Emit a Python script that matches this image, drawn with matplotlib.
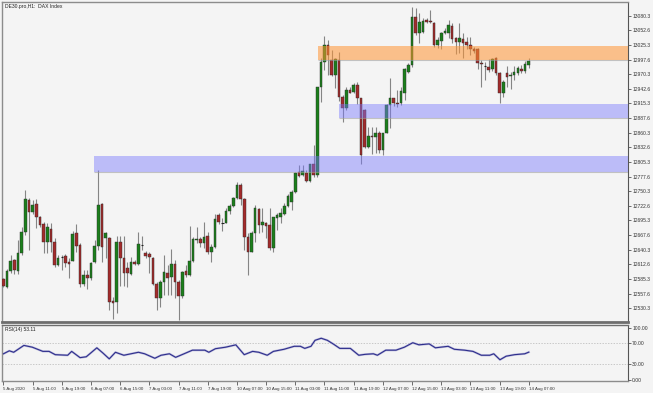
import matplotlib
matplotlib.use("Agg")
import matplotlib.pyplot as plt
from matplotlib.patches import Rectangle

# hourly DAX candles
opens = [12585.3, 12570.8, 12600.9, 12621.0, 12600.9, 12634.8, 12673.0, 12733.8, 12710.6, 12725.6,
         12702.5, 12688.0, 12654.2, 12679.3, 12654.2, 12611.6, 12626.6, 12628.5, 12616.6, 12619.7,
         12671.1, 12649.2, 12575.2, 12592.8, 12586.5, 12616.6, 12647.3, 12725.6, 12663.0, 12663.0,
         12544.5, 12541.4, 12655.4, 12625.4, 12606.6, 12594.0, 12616.6, 12612.8, 12649.2, 12633.5,
         12632.3, 12625.4, 12575.2, 12548.9, 12579.0, 12595.9, 12589.7, 12612.8, 12579.0, 12553.9,
         12600.3, 12592.8, 12619.1, 12658.6, 12660.5, 12652.3, 12666.1, 12636.7, 12646.1, 12705.6,
         12690.5, 12691.2, 12713.1, 12723.1, 12736.9, 12762.0, 12735.7, 12664.9, 12636.7, 12671.1,
         12716.9, 12686.8, 12689.9, 12686.8, 12642.9, 12699.3, 12701.2, 12707.5, 12723.1, 12729.4,
         12749.4, 12787.0, 12780.8, 12785.2, 12770.1, 12801.5, 12780.8, 12946.9, 12993.8, 13025.2,
         12997.0, 12968.8, 12997.0, 12926.8, 12906.1, 12940.6, 12937.5, 12950.0, 12924.9, 12903.0,
         12834.1, 12854.1, 12852.9, 12859.1, 12827.8, 12860.4, 12912.4, 12924.9, 12916.8, 12915.5,
         12935.6, 12975.1, 12987.6, 13077.2, 13047.1, 13049.0, 13072.2, 13070.9, 13065.9, 13025.2,
         13033.3, 13047.1, 13047.1, 13060.9, 13037.7, 13031.5, 13035.8, 13031.5, 13025.2, 13017.0,
         13017.0, 12992.0, 12985.7, 12984.5, 12979.5, 13000.1, 12971.9, 12934.3, 12971.9, 12966.9,
         12968.8, 12973.2, 12979.5, 12976.9, 12987.6]
highs = [12586.5, 12603.4, 12630.4, 12622.2, 12658.6, 12683.7, 12752.6, 12738.2, 12733.8, 12735.7,
         12704.3, 12693.1, 12689.9, 12689.9, 12663.0, 12630.4, 12630.4, 12632.3, 12624.1, 12675.5,
         12688.0, 12652.3, 12602.2, 12602.2, 12616.6, 12658.6, 12790.2, 12727.5, 12674.3, 12664.9,
         12552.1, 12666.7, 12666.1, 12666.1, 12616.6, 12627.3, 12621.0, 12674.3, 12666.7, 12637.9,
         12636.7, 12627.3, 12580.2, 12583.4, 12630.4, 12611.6, 12641.7, 12621.0, 12583.4, 12600.3,
         12611.6, 12685.5, 12664.9, 12683.7, 12664.9, 12693.1, 12674.3, 12651.1, 12706.8, 12708.7,
         12700.6, 12718.1, 12726.3, 12740.1, 12768.3, 12765.1, 12736.9, 12671.1, 12675.5, 12724.4,
         12719.4, 12718.1, 12693.1, 12718.1, 12702.5, 12708.7, 12718.1, 12727.5, 12745.1, 12752.6,
         12787.0, 12799.6, 12799.6, 12790.2, 12801.5, 12837.2, 12946.9, 13000.1, 13042.1, 13034.6,
         13015.8, 13000.1, 13012.7, 12931.2, 12946.9, 12946.9, 12954.4, 12956.3, 12924.9, 12904.2,
         12871.7, 12870.4, 12871.7, 12864.1, 12860.4, 12914.3, 12962.5, 12924.9, 12940.6, 12946.9,
         12981.3, 12990.7, 13097.3, 13094.1, 13084.7, 13075.3, 13075.3, 13091.0, 13069.1, 13040.9,
         13050.3, 13056.5, 13072.2, 13067.2, 13039.6, 13067.2, 13047.1, 13040.9, 13040.9, 13022.1,
         13018.9, 12997.0, 12993.9, 12998.2, 13000.1, 13003.3, 12975.1, 12959.4, 12985.7, 12975.1,
         12985.7, 12985.7, 12987.6, 12995.7, 13000.1]
lows = [12570.8, 12569.0, 12595.9, 12594.7, 12594.7, 12630.4, 12668.0, 12639.8, 12706.8, 12681.8,
        12683.7, 12634.8, 12634.8, 12636.7, 12608.5, 12610.3, 12602.2, 12608.5, 12587.8, 12619.1,
        12636.7, 12570.8, 12572.1, 12565.8, 12583.4, 12614.7, 12639.8, 12617.9, 12624.1, 12527.0,
        12510.1, 12520.7, 12572.7, 12572.1, 12570.8, 12592.8, 12611.6, 12611.6, 12639.8, 12625.4,
        12595.9, 12574.0, 12527.0, 12533.3, 12555.2, 12555.2, 12555.2, 12548.9, 12508.2, 12550.2,
        12589.7, 12591.5, 12617.9, 12652.3, 12646.1, 12642.9, 12631.6, 12616.6, 12642.9, 12688.0,
        12675.5, 12689.9, 12706.8, 12721.3, 12735.7, 12724.4, 12639.8, 12592.8, 12635.4, 12655.5,
        12671.1, 12674.3, 12661.7, 12639.8, 12636.7, 12677.4, 12689.9, 12705.6, 12721.3, 12715.0,
        12746.3, 12777.6, 12778.9, 12768.3, 12768.3, 12777.6, 12777.6, 12918.7, 12978.2, 12968.8,
        12966.9, 12943.7, 12920.5, 12881.1, 12903.0, 12934.3, 12934.3, 12914.3, 12801.5, 12830.9,
        12830.9, 12820.3, 12821.5, 12821.5, 12818.4, 12859.1, 12868.5, 12910.5, 12909.3, 12912.4,
        12921.8, 12973.2, 12984.5, 13044.0, 13028.3, 13047.1, 13065.9, 13065.9, 13022.1, 13018.9,
        13017.0, 13045.9, 13037.7, 13028.3, 13008.3, 13009.5, 13000.1, 13017.0, 13006.4, 13009.5,
        12979.5, 12946.9, 12959.4, 12975.1, 12976.9, 12968.8, 12915.5, 12928.1, 12946.9, 12941.8,
        12959.4, 12968.8, 12973.2, 12971.9, 12981.3]
closes = [12572.7, 12600.9, 12619.7, 12602.2, 12634.8, 12673.0, 12735.7, 12710.6, 12724.4, 12702.5,
          12686.8, 12654.2, 12683.7, 12654.2, 12611.6, 12625.4, 12627.9, 12614.7, 12612.8, 12669.9,
          12647.9, 12575.2, 12592.8, 12586.5, 12614.7, 12647.3, 12724.4, 12646.1, 12671.1, 12542.7,
          12540.8, 12655.4, 12624.1, 12597.2, 12595.9, 12616.6, 12612.8, 12651.1, 12650.4, 12629.1,
          12626.0, 12575.2, 12548.9, 12579.0, 12597.8, 12587.8, 12612.8, 12579.0, 12553.9, 12599.1,
          12592.8, 12619.1, 12660.5, 12660.5, 12652.3, 12664.9, 12636.7, 12646.1, 12698.1, 12691.8,
          12689.3, 12713.1, 12723.1, 12736.9, 12762.0, 12735.0, 12664.9, 12636.7, 12671.1, 12718.1,
          12686.8, 12691.8, 12685.5, 12642.9, 12701.2, 12705.6, 12708.7, 12723.1, 12741.3, 12749.4,
          12785.2, 12778.9, 12788.3, 12770.1, 12801.5, 12780.8, 12946.9, 12993.9, 13025.2, 13006.4,
          12968.8, 12998.3, 12926.8, 12906.1, 12940.6, 12935.6, 12950.0, 12924.9, 12818.4, 12834.1,
          12854.1, 12851.6, 12860.4, 12827.8, 12859.1, 12912.4, 12924.9, 12915.5, 12914.9, 12939.3,
          12979.5, 12987.6, 13077.2, 13047.1, 13069.1, 13070.9, 13067.8, 13069.1, 13025.2, 13034.6,
          13048.4, 13052.1, 13062.8, 13035.8, 13031.5, 13037.7, 13029.6, 13025.2, 13017.0, 13014.5,
          12992.0, 12989.5, 12984.5, 12978.2, 12998.2, 12971.9, 12935.6, 12956.3, 12965.7, 12968.8,
          12975.1, 12981.3, 12976.9, 12989.5, 12995.1]

# time axis: one label every 8 bars
time_labels = ["5 Aug 2020", "5 Aug 11:00", "5 Aug 19:00", "6 Aug 07:00", "6 Aug 15:00",
               "7 Aug 03:00", "7 Aug 11:00", "7 Aug 19:00", "10 Aug 07:00", "10 Aug 15:00",
               "11 Aug 03:00", "11 Aug 11:00", "11 Aug 19:00", "12 Aug 07:00", "12 Aug 15:00",
               "13 Aug 03:00", "13 Aug 11:00", "13 Aug 19:00", "14 Aug 07:00"]
label_step = 8

price_ticks = [13080.3, 13052.6, 13025.3, 12997.6, 12970.3, 12942.6, 12915.3, 12887.6, 12860.3,
               12832.6, 12805.3, 12777.6, 12750.3, 12722.6, 12695.3, 12667.6, 12640.3, 12612.6,
               12585.3, 12557.6, 12530.3]

# supply / demand zones: (start bar, low price, high price)
zone_start = [86.1, 92.0, 24.8]
zone_low = [12997.0, 12887.4, 12785.9]
zone_high = [13023.3, 12913.7, 12816.5]
zone_colors = [(1.0, 0.58, 0.2, 0.55), (0.47, 0.47, 1.0, 0.45), (0.47, 0.47, 1.0, 0.45)]

# RSI(14) line
rsi_bar = [0, 1.6, 2.8, 5.6, 7.9, 10.8, 12.5, 14.2, 17.6, 18.7, 21.0, 22.7, 25.6, 27.3, 29.0,
           30.7, 33.0, 37.0, 38.7, 41.5, 43.2, 45.5, 47.2, 49.5, 51.8, 55.2, 56.3, 58.1, 60.9,
           63.7, 66.0, 68.3, 70.0, 72.3, 74.0, 76.9, 79.7, 81.4, 82.6, 84.3, 85.4, 87.1, 88.8,
           90.5, 92.2, 95.1, 97.4, 99.1, 101.4, 102.5, 104.8, 107.6, 109.9, 112.2, 113.9, 116.7,
           118.4, 121.9, 123.6, 126.4, 128.7, 131.0, 133.3, 134.4, 136.1, 137.8, 140.1, 142.9, 144.0]
rsi_val = [50.0, 55.7, 52.9, 66.0, 62.6, 54.6, 54.6, 48.3, 47.2, 54.6, 42.6, 44.3, 61.4, 51.2,
           40.3, 52.9, 47.2, 52.9, 50.0, 41.4, 47.2, 50.0, 43.2, 50.0, 56.9, 56.9, 52.9, 59.7,
           62.6, 67.1, 48.3, 54.6, 52.9, 47.2, 54.6, 58.6, 64.3, 64.3, 60.3, 64.3, 75.7, 79.7,
           75.7, 68.3, 60.3, 60.3, 47.2, 48.9, 50.0, 47.2, 56.9, 56.9, 62.6, 71.1, 67.1, 68.9,
           61.4, 64.3, 58.6, 56.9, 54.6, 47.2, 47.2, 50.0, 38.6, 45.4, 48.3, 50.0, 53.11]
rsi_levels = [70, 30]
rsi_ticks = [100, 70, 30, 0]

BG = "#f4f4f4"
FRAME = "#8c8c8c"
BULL = "#1b7f1b"
BEAR = "#a32b2b"
WICK = "#858585"

plt.rcParams["font.family"] = ["Liberation Sans", "DejaVu Sans"]

fig = plt.figure(figsize=(6.53, 3.93), dpi=100, facecolor=BG)
ax = fig.add_axes([2 / 653, 71 / 393, 626 / 653, 320 / 393], facecolor=BG)
ax_rsi = fig.add_axes([2 / 653, 12 / 393, 626 / 653, 56 / 393], facecolor=BG)

n = len(opens)
xs = list(range(n))

# candles
for i in xs:
    o, h, l, c = opens[i], highs[i], lows[i], closes[i]
    col = BULL if c >= o else BEAR
    ax.vlines(i, l, h, color=WICK, lw=0.8, zorder=2)
    lo_b, hi_b = min(o, c), max(o, c)
    if hi_b - lo_b < 1.5:
        ax.hlines(o, i - 0.36, i + 0.36, color="#222222", lw=0.8, zorder=3)
    else:
        ax.bar(i, hi_b - lo_b, bottom=lo_b, width=0.72, color=col,
               edgecolor="#2a2a2a", linewidth=0.3, zorder=3)

# zones drawn on top, translucent
xmax = 171.2
for s, lo, hi, zc in zip(zone_start, zone_low, zone_high, zone_colors):
    ax.add_patch(Rectangle((s, lo), xmax - s, hi - lo, facecolor=zc, edgecolor="none", zorder=4))
    ax.hlines(lo, s, xmax, color="#a0a0a0", lw=0.8, alpha=0.6, zorder=4)

ax.set_xlim(-0.4, xmax)
ax.set_ylim(12504.4, 13106.0)
ax.set_yticks(price_ticks)
ax.set_yticklabels([f"{t:.1f}" for t in price_ticks])
ax.yaxis.tick_right()
ax.tick_params(axis="y", which="both", length=2, width=0.5, pad=1, labelsize=3.6,
               colors="#333333")
ax.set_xticks([])
for side in ["left", "top"]:
    ax.spines[side].set_color(FRAME)
    ax.spines[side].set_linewidth(1)
ax.spines["right"].set_color("#555555")
ax.spines["right"].set_linewidth(0.8)
ax.spines["bottom"].set_color("#6e6e6e")
ax.spines["bottom"].set_linewidth(2)

ax.text(0.004, 0.995, "DE30.pro,H1:  DAX Index", transform=ax.transAxes, ha="left", va="top",
        fontsize=3.6, color="#222222")

# RSI panel
ax_rsi.plot(rsi_bar, rsi_val, color="#bcbcdc", lw=1.6, zorder=2)
ax_rsi.plot(rsi_bar, rsi_val, color="#2e2e8c", lw=0.8, zorder=3)
for lv in rsi_levels:
    ax_rsi.axhline(lv, color="#b5b5b5", lw=0.5, ls=(0, (2, 2)), zorder=1)
ax_rsi.set_xlim(-0.4, xmax)
ax_rsi.set_ylim(-2, 105)
ax_rsi.set_yticks(rsi_ticks)
ax_rsi.set_yticklabels([f"{t:.2f}" for t in rsi_ticks])
ax_rsi.yaxis.tick_right()
ax_rsi.tick_params(axis="y", length=2, width=0.5, pad=1, labelsize=3.6, colors="#333333")
tick_pos = [k * label_step for k in range(len(time_labels))]
ax_rsi.set_xticks(tick_pos)
ax_rsi.set_xticklabels(time_labels, ha="left")
ax_rsi.tick_params(axis="x", length=3, width=0.5, pad=1, labelsize=3.2, colors="#333333")
for side in ["left", "bottom"]:
    ax_rsi.spines[side].set_color(FRAME)
    ax_rsi.spines[side].set_linewidth(1)
ax_rsi.spines["top"].set_color("#6e6e6e")
ax_rsi.spines["top"].set_linewidth(1)
ax_rsi.spines["right"].set_color("#555555")
ax_rsi.spines["right"].set_linewidth(0.8)
ax_rsi.text(0.004, 0.97, "RSI(14) 53.11", transform=ax_rsi.transAxes, ha="left", va="top",
            fontsize=3.6, color="#222222")

fig.savefig("out.png", dpi=100, facecolor=BG)
